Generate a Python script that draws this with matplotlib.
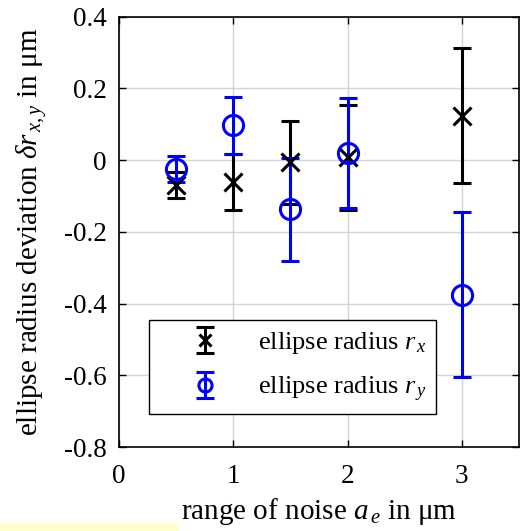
import matplotlib
matplotlib.use("Agg")
import matplotlib.pyplot as plt
from matplotlib.patches import Rectangle

plt.rcParams["font.family"] = ["Liberation Serif", "DejaVu Serif"]
plt.rcParams["mathtext.fontset"] = "custom"
plt.rcParams["mathtext.rm"] = "Liberation Serif"
plt.rcParams["mathtext.it"] = "Liberation Serif:italic"
plt.rcParams["mathtext.default"] = "it"

# noise range a_e in um
noise = [0.5, 1.0, 1.5, 2.0, 3.0]
# mean deviation and spread of ellipse radius r_x
rx_mean = [-0.070, -0.061, -0.006, 0.008, 0.124]
rx_err = [0.036, 0.079, 0.115, 0.146, 0.188]
# mean deviation and spread of ellipse radius r_y
ry_mean = [-0.025, 0.097, -0.137, 0.020, -0.375]
ry_err = [0.037, 0.079, 0.143, 0.154, 0.230]

xticks = [0, 1, 2, 3]
yticks = [-0.8, -0.6, -0.4, -0.2, 0, 0.2, 0.4]
ytick_labels = ["-0.8", "-0.6", "-0.4", "-0.2", "0", "0.2", "0.4"]

fig = plt.figure(figsize=(5.2, 5.31), dpi=100)
ax = fig.add_axes([119 / 520, 84 / 531, 400 / 520, 430.3 / 531])

ax.errorbar(noise, rx_mean, yerr=rx_err, fmt="x", color="black",
            markersize=13, markeredgewidth=2.2, elinewidth=2.2,
            capsize=6.5, capthick=2.2, label=r"ellipse radius $r_{\,x}$", zorder=3)
ax.errorbar(noise, ry_mean, yerr=ry_err, fmt="o", color=(0, 0, 1),
            markerfacecolor="none", markersize=14.5, markeredgewidth=2.2,
            elinewidth=2.2, capsize=6.5, capthick=2.2,
            label=r"ellipse radius $r_{\,y}$", zorder=3)

ax.set_xlim(0, 3.5)
ax.set_ylim(-0.8, 0.4)
ax.set_xticks(xticks)
ax.set_yticks(yticks)
ax.set_yticklabels(ytick_labels)
ax.grid(True, color="#d4d4d4", linewidth=1.0)
ax.set_axisbelow(True)
ax.tick_params(direction="in", length=5, width=1.0, labelsize=19.5,
               top=True, right=True, colors="black")
ax.tick_params(axis="x", pad=12)
ax.tick_params(axis="y", pad=9)
for s in ax.spines.values():
    s.set_linewidth(1.2)

ax.set_xlabel(r"range of noise $a_{\,e}$ in $\mathrm{\mu m}$", fontsize=21, labelpad=5)
ax.set_ylabel(r"ellipse radius deviation $\delta r_{\,x,y}$ in $\mathrm{\mu m}$",
              fontsize=21, labelpad=10)

leg = ax.legend(loc="lower left", bbox_to_anchor=(0.0758, 0.076, 0.7167, 0.2208),
                mode="expand", fontsize=19, frameon=True, fancybox=False,
                edgecolor="black", framealpha=1, borderaxespad=0,
                handlelength=3.4, handletextpad=0.3, labelspacing=0.7,
                borderpad=0.4, markerscale=0.65)
leg.get_frame().set_linewidth(1.0)

# pale yellow strip at the lower left corner
fig.patches.append(Rectangle((0, 0), 178 / 520, 8.5 / 531, transform=fig.transFigure,
                             facecolor="#ffffcc", edgecolor="none", zorder=-1))

fig.savefig("out.png", dpi=100)
